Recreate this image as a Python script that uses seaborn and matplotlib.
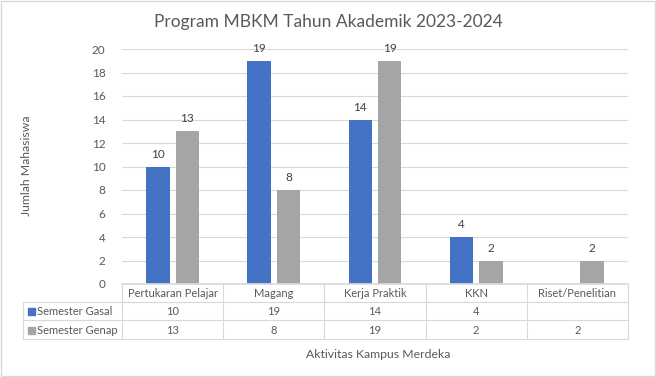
import numpy as np
import pandas as pd
import matplotlib
matplotlib.use("Agg")
import matplotlib.pyplot as plt
import seaborn as sns

categories = ["Pertukaran Pelajar", "Magang", "Kerja Praktik", "KKN", "Riset/Penelitian"]
gasal = [10, 19, 14, 4, np.nan]
genap = [13, 8, 19, 2, 2]
series_names = ["Semester Gasal", "Semester Genap"]
colors = ["#4472C4", "#A5A5A5"]
yticks = list(range(0, 21, 2))
title = "Program MBKM Tahun Akademik 2023-2024"
xlabel = "Aktivitas Kampus Merdeka"
ylabel = "Jumlah Mahasiswa"

sns.set_theme(style="white")
FONT = ["Lato", "DejaVu Sans"]
plt.rcParams["font.family"] = FONT
TXT = "#595959"

df = pd.DataFrame({
    "Kategori": categories * 2,
    "Seri": [series_names[0]] * len(categories) + [series_names[1]] * len(categories),
    "Nilai": gasal + genap,
})

W, H = 656, 377
fig = plt.figure(figsize=(W / 100, H / 100), dpi=100)
fig.patch.set_facecolor("white")

def fx(px):
    return px / W

def fy(py):
    return 1 - py / H

left, right, top, base = 122, 628, 49, 284
ax = fig.add_axes([fx(left), fy(base), fx(right - left), (base - top) / H])
sns.barplot(data=df, x="Kategori", y="Nilai", hue="Seri", order=categories,
            hue_order=series_names, palette=colors, width=0.58, gap=0.2,
            saturation=1, ax=ax, legend=False, linewidth=0)
ax.set_ylim(0, 20)
ax.set_xlim(-0.5, len(categories) - 0.5)
ax.set_yticks(yticks)
ax.tick_params(axis="y", length=0, pad=12, labelsize=8.5, labelcolor=TXT)
ax.tick_params(axis="x", length=0, labelbottom=False)
ax.set_xlabel("")
ax.set_ylabel("")
ax.grid(axis="y", color="#D9D9D9", linewidth=0.8)
ax.set_axisbelow(True)
for s in ["left", "right", "top"]:
    ax.spines[s].set_visible(False)
ax.spines["bottom"].set_color("#D9D9D9")
for cont in ax.containers:
    labels = ["" if np.isnan(b.get_height()) else f"{b.get_height():g}" for b in cont]
    ax.bar_label(cont, labels=labels, padding=5, fontsize=8.5, color="#404040")

# Data table
rows_y = [284, 302, 320, 339]
tab_left = 23
tax = fig.add_axes([fx(tab_left), fy(rows_y[-1]), fx(right - tab_left), (rows_y[-1] - rows_y[0]) / H])
tax.set_xlim(tab_left, right)
tax.set_ylim(rows_y[-1], rows_y[0])
tax.axis("off")
lc = "#D9D9D9"
colw = (right - left) / len(categories)
col_edges = [left + i * colw for i in range(len(categories) + 1)]
for xe in col_edges:
    tax.plot([xe, xe], [rows_y[0], rows_y[-1]], color=lc, lw=0.8, clip_on=False)
tax.plot([tab_left, tab_left], [rows_y[1], rows_y[-1]], color=lc, lw=0.8, clip_on=False)
for yr in rows_y[1:]:
    tax.plot([tab_left, right], [yr, yr], color=lc, lw=0.8, clip_on=False)
for i, c in enumerate(categories):
    tax.text((col_edges[i] + col_edges[i + 1]) / 2, (rows_y[0] + rows_y[1]) / 2 + 0.5, c,
             ha="center", va="center", fontsize=8, color=TXT)
for r, (name, vals, col) in enumerate(zip(series_names, [gasal, genap], colors)):
    yc = (rows_y[r + 1] + rows_y[r + 2]) / 2 + 0.5
    tax.add_patch(plt.Rectangle((28, yc - 3.5), 7, 7, color=col, clip_on=False))
    tax.text(37, yc, name, ha="left", va="center", fontsize=8, color=TXT)
    for i, v in enumerate(vals):
        if not np.isnan(v):
            tax.text((col_edges[i] + col_edges[i + 1]) / 2, yc, f"{v:g}",
                     ha="center", va="center", fontsize=8, color=TXT)

fig.text(fx(328), fy(22), title, ha="center", va="center", fontsize=12.5, color=TXT)
fig.text(fx(378), fy(354), xlabel, ha="center", va="center", fontsize=8.8, color=TXT)
fig.text(fx(27), fy(166), ylabel, ha="center", va="center", rotation=90, fontsize=8.8, color=TXT)

fig.add_artist(plt.Rectangle((0.001, 0.002), 0.997, 0.995, transform=fig.transFigure,
                             fill=False, edgecolor="#D9D9D9", lw=1))

fig.savefig("out.png", dpi=100, facecolor="white")
